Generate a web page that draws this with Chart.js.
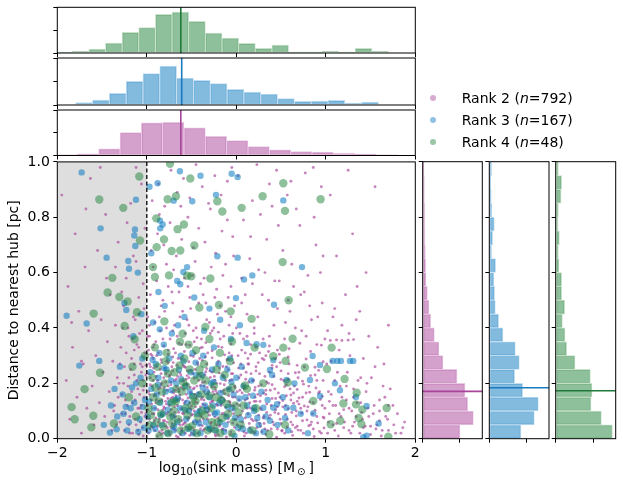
<!DOCTYPE html>
<html><head><meta charset="utf-8">
<script src="https://cdn.jsdelivr.net/npm/chart.js@4.4.1/dist/chart.umd.min.js"></script>
<style>
html,body{margin:0;padding:0;background:#fff;}
#wrap{position:relative;width:623px;height:488px;overflow:hidden;font-family:"DejaVu Sans",sans-serif;background:#fff;}
.box{position:absolute;}
.box canvas{display:block;}
.row{position:absolute;left:0;white-space:nowrap;height:20px;line-height:20px;font-size:14px;color:#000;font-family:"DejaVu Sans",sans-serif;}
.dot{position:absolute;width:6px;height:6px;border-radius:50%;top:7px;}
.lab{position:absolute;top:0;}
</style></head>
<body>
<div id="wrap">
  <div class="box" style="left:0;top:0;"><canvas id="topG" width="430" height="58"></canvas></div>
  <div class="box" style="left:0;top:54px;"><canvas id="topB" width="430" height="56"></canvas></div>
  <div class="box" style="left:0;top:106px;"><canvas id="topP" width="430" height="55"></canvas></div>
  <div class="box" style="left:0;top:150px;"><canvas id="main" width="430" height="338"></canvas></div>
  <div class="box" style="left:416px;top:155px;"><canvas id="rightP" width="68" height="290"></canvas></div>
  <div class="box" style="left:483px;top:155px;"><canvas id="rightB" width="68" height="290"></canvas></div>
  <div class="box" style="left:549px;top:155px;"><canvas id="rightG" width="69" height="290"></canvas></div>
  <div id="legend"></div>
</div>
<script>
// ---------------- DATA ----------------
const seriesNames = ['Rank 2', 'Rank 3', 'Rank 4'];
const seriesCounts = [792, 167, 48];
const xTicks = [-2, -1, 0, 1, 2];
const yTicks = [0, 0.2, 0.4, 0.6, 0.8, 1.0];
const shadeRange = [-2, -1];
const massCut = -1;

// scatter points [log10 mass, distance]
const rank2Pts = [
[-1.95,0.88],[-1.90,0.21],[-1.88,0.55],[-1.86,0.07],[-1.83,0.33],[-1.80,0.74],[-1.78,0.15],[-1.76,0.46],[-1.73,0.02],[-1.71,0.27],[-1.69,0.62],[-1.67,0.11],[-1.65,0.39],[-1.63,0.94],[-1.61,0.19],[-1.59,0.05],[-1.57,0.30],[-1.55,0.68],[-1.53,0.13],[-1.51,0.43],[-1.49,0.24],[-1.47,0.08],[-1.46,0.81],[-1.44,0.35],[-1.42,0.17],[-1.41,0.52],[-1.39,0.03],[-1.38,0.28],[-1.36,0.12],[-1.35,0.41],[-1.33,0.22],[-1.32,0.71],[-1.30,0.06],[-1.29,0.33],[-1.28,0.16],[-1.26,0.48],[-1.25,0.26],[-1.24,0.09],[-1.23,0.58],[-1.21,0.19],[-1.20,0.37],[-1.19,0.02],[-1.18,0.85],[-1.17,0.29],[-1.16,0.13],[-1.15,0.44],[-1.14,0.23],[-1.13,0.07],[-1.12,0.64],[-1.11,0.34],[-1.10,0.18],[-1.09,0.51],[-1.08,0.11],[-1.07,0.27],[-1.06,0.92],[-1.05,0.04],[-1.05,0.39],[-1.04,0.21],[-1.03,0.15],[-1.02,0.31],[-1.02,0.76],[-1.01,0.09],[-1.35,0.62],[-1.22,0.78],[-1.12,0.98],[-1.45,0.58],[-1.15,0.66],[-1.27,0.40],[-1.09,0.45],[-1.18,0.25],[-1.31,0.20],[-1.14,0.32],[-1.24,0.14],[-1.06,0.24],[-1.37,0.10],[-1.20,0.05],[-1.10,0.03],[-1.16,0.36],[-1.28,0.53],[-1.04,0.56],[-1.68,0.83],[-1.52,0.98],[-1.84,0.42],[-1.73,0.28],
[-0.98,0.02],[-0.93,0.04],[-0.88,0.01],[-0.83,0.03],[-0.79,0.045],[-0.74,0.015],[-0.70,0.035],[-0.65,0.005],[-0.61,0.028],[-0.56,0.042],[-0.52,0.012],[-0.47,0.031],[-0.43,0.02],[-0.38,0.047],[-0.34,0.008],[-0.29,0.026],[-0.25,0.039],[-0.20,0.014],[-0.15,0.033],[-0.11,0.006],[-0.06,0.024],[-0.02,0.041],
[-0.97,0.07],[-0.92,0.09],[-0.87,0.06],[-0.84,0.085],[-0.80,0.065],[-0.76,0.095],[-0.72,0.055],[-0.68,0.08],[-0.64,0.07],[-0.60,0.092],[-0.57,0.058],[-0.53,0.077],[-0.49,0.088],[-0.45,0.062],[-0.41,0.083],[-0.37,0.071],[-0.33,0.096],[-0.28,0.059],[-0.24,0.079],[-0.19,0.066],[-0.14,0.091],[-0.09,0.073],[-0.04,0.057],
[-0.99,0.12],[-0.95,0.14],[-0.91,0.11],[-0.86,0.135],[-0.82,0.105],[-0.78,0.125],[-0.73,0.145],[-0.69,0.115],[-0.66,0.138],[-0.62,0.108],[-0.58,0.128],[-0.54,0.147],[-0.50,0.118],[-0.46,0.133],[-0.42,0.103],[-0.39,0.142],[-0.35,0.121],[-0.31,0.111],[-0.27,0.137],[-0.22,0.124],[-0.17,0.149],[-0.12,0.113],[-0.07,0.131],[-0.03,0.119],
[-0.98,0.17],[-0.94,0.19],[-0.90,0.16],[-0.85,0.185],[-0.81,0.155],[-0.77,0.175],[-0.73,0.195],[-0.70,0.165],[-0.67,0.188],[-0.63,0.158],[-0.59,0.178],[-0.55,0.197],[-0.51,0.168],[-0.47,0.183],[-0.44,0.153],[-0.40,0.192],[-0.36,0.171],[-0.32,0.161],[-0.27,0.187],[-0.23,0.174],[-0.18,0.199],[-0.13,0.163],[-0.08,0.181],[-0.04,0.169],
[-0.96,0.22],[-0.92,0.24],[-0.88,0.21],[-0.84,0.235],[-0.79,0.205],[-0.75,0.225],[-0.71,0.245],[-0.67,0.215],[-0.63,0.238],[-0.59,0.208],[-0.55,0.228],[-0.51,0.247],[-0.47,0.218],[-0.42,0.233],[-0.38,0.203],[-0.34,0.242],[-0.29,0.221],[-0.24,0.211],[-0.19,0.237],[-0.14,0.224],[-0.09,0.249],[-0.05,0.213],
[-0.97,0.27],[-0.93,0.29],[-0.89,0.26],[-0.84,0.285],[-0.80,0.255],[-0.76,0.275],[-0.71,0.295],[-0.66,0.265],[-0.62,0.288],[-0.57,0.258],[-0.53,0.278],[-0.48,0.297],[-0.43,0.268],[-0.38,0.283],[-0.33,0.253],[-0.27,0.292],[-0.21,0.271],[-0.15,0.261],[-0.09,0.287],[-0.03,0.274],
[-0.98,0.32],[-0.92,0.34],[-0.87,0.31],[-0.81,0.335],[-0.76,0.305],[-0.70,0.325],[-0.64,0.345],[-0.58,0.315],[-0.52,0.338],[-0.46,0.308],[-0.40,0.328],[-0.34,0.347],[-0.27,0.318],[-0.20,0.333],[-0.13,0.303],[-0.06,0.342],
[-0.95,0.045],[-0.90,0.075],[-0.86,0.025],[-0.81,0.115],[-0.77,0.04],[-0.72,0.17],[-0.68,0.03],[-0.63,0.145],[-0.60,0.05],[-0.55,0.10],[-0.50,0.02],[-0.46,0.16],[-0.41,0.05],[-0.36,0.14],[-0.31,0.04],[-0.96,0.195],[-0.89,0.14],[-0.83,0.20],[-0.78,0.09],[-0.74,0.23],[-0.69,0.095],[-0.65,0.18],[-0.61,0.065],[-0.56,0.215],[-0.52,0.13],[-0.48,0.06],[-0.44,0.19],[-0.40,0.115],[-0.35,0.23],[-0.30,0.085],[-0.26,0.17],[-0.22,0.05],[-0.17,0.12],[-0.12,0.21],[-0.08,0.10],[-0.04,0.15],[-0.01,0.07],
[-0.97,0.37],[-0.91,0.42],[-0.85,0.39],[-0.80,0.46],[-0.74,0.36],[-0.69,0.41],[-0.63,0.44],[-0.57,0.38],[-0.51,0.47],[-0.45,0.40],[-0.39,0.36],[-0.33,0.43],[-0.27,0.39],[-0.21,0.45],[-0.14,0.37],[-0.08,0.41],[-0.02,0.48],
[-0.96,0.52],[-0.89,0.57],[-0.82,0.50],[-0.76,0.55],[-0.70,0.61],[-0.64,0.53],[-0.58,0.58],[-0.52,0.51],[-0.46,0.64],[-0.40,0.56],[-0.34,0.49],[-0.28,0.62],[-0.22,0.54],[-0.15,0.59],[-0.09,0.51],[-0.03,0.66],
[-0.95,0.68],[-0.88,0.74],[-0.81,0.70],[-0.74,0.78],[-0.67,0.66],[-0.61,0.72],[-0.54,0.80],[-0.48,0.69],[-0.42,0.76],[-0.35,0.71],[-0.29,0.83],[-0.23,0.67],[-0.16,0.75],[-0.10,0.79],[-0.04,0.73],
[-0.94,0.86],[-0.87,0.92],[-0.80,0.84],[-0.73,0.97],[-0.66,0.89],[-0.59,0.94],[-0.52,0.87],[-0.45,0.99],[-0.38,0.91],[-0.31,0.85],[-0.24,0.95],[-0.17,0.88],[-0.10,0.93],[-0.05,0.98],
[-0.99,0.44],[-0.93,0.62],[-0.86,0.81],[-0.78,0.63],[-0.71,0.49],[-0.62,0.84],[-0.55,0.43],[-0.49,0.59],[-0.37,0.52],[-0.25,0.40],[-0.18,0.48],[-0.12,0.63],[-0.06,0.44],
[0.03,0.03],[0.09,0.01],[0.15,0.04],[0.21,0.02],[0.27,0.045],[0.33,0.015],[0.39,0.035],[0.45,0.005],[0.51,0.028],[0.57,0.042],[0.63,0.012],[0.69,0.031],[0.75,0.02],[0.81,0.047],[0.87,0.008],[0.93,0.026],[0.98,0.039],
[0.02,0.08],[0.07,0.06],[0.13,0.09],[0.19,0.065],[0.25,0.085],[0.31,0.055],[0.37,0.075],[0.43,0.095],[0.49,0.07],[0.55,0.088],[0.61,0.06],[0.67,0.082],[0.73,0.092],[0.79,0.068],[0.85,0.09],[0.91,0.057],[0.97,0.078],
[0.04,0.12],[0.10,0.14],[0.16,0.11],[0.22,0.135],[0.28,0.105],[0.34,0.125],[0.40,0.145],[0.46,0.115],[0.52,0.138],[0.58,0.108],[0.64,0.128],[0.70,0.147],[0.76,0.118],[0.82,0.133],[0.88,0.103],[0.94,0.142],
[0.01,0.17],[0.08,0.19],[0.14,0.16],[0.21,0.185],[0.27,0.155],[0.33,0.175],[0.40,0.195],[0.47,0.165],[0.54,0.188],[0.61,0.158],[0.68,0.178],[0.75,0.197],[0.82,0.168],[0.89,0.183],[0.96,0.153],
[0.03,0.22],[0.11,0.24],[0.18,0.21],[0.26,0.235],[0.34,0.205],[0.42,0.225],[0.50,0.245],[0.58,0.215],[0.66,0.238],[0.74,0.208],[0.83,0.228],[0.92,0.247],
[0.05,0.27],[0.13,0.29],[0.22,0.26],[0.31,0.285],[0.40,0.255],[0.49,0.275],[0.58,0.295],[0.68,0.265],[0.78,0.288],[0.88,0.258],[0.97,0.278],
[0.06,0.32],[0.16,0.34],[0.26,0.31],[0.37,0.335],[0.48,0.305],[0.59,0.325],[0.71,0.345],[0.83,0.315],[0.95,0.338],
[0.06,0.045],[0.12,0.11],[0.18,0.025],[0.24,0.16],[0.30,0.075],[0.36,0.20],[0.42,0.05],[0.48,0.13],[0.54,0.02],[0.60,0.18],[0.66,0.04],[0.72,0.11],[0.78,0.165],[0.84,0.06],[0.90,0.21],[0.96,0.12],[0.14,0.27],[0.44,0.29],[0.70,0.24],
[0.04,0.38],[0.12,0.45],[0.20,0.40],[0.29,0.52],[0.37,0.37],[0.46,0.47],[0.55,0.42],[0.64,0.55],[0.73,0.39],[0.82,0.48],[0.91,0.44],[0.99,0.36],
[0.06,0.58],[0.15,0.65],[0.25,0.61],[0.34,0.72],[0.43,0.57],[0.52,0.68],[0.62,0.63],[0.71,0.77],[0.80,0.59],[0.89,0.70],[0.97,0.66],
[0.08,0.79],[0.18,0.86],[0.27,0.81],[0.37,0.92],[0.47,0.77],[0.57,0.88],[0.67,0.83],[0.77,0.96],[0.87,0.80],[0.95,0.91],
[0.02,0.95],[0.23,0.99],[0.45,0.97],[0.61,0.93],[0.86,0.98],[0.10,0.52],[0.32,0.60],[0.58,0.50],[0.76,0.53],[0.94,0.60],[0.40,0.84],[0.16,0.73],
[1.05,0.355],[1.12,0.357],[1.18,0.355],[1.25,0.356],[1.31,0.358],
[1.02,0.02],[1.08,0.05],[1.14,0.01],[1.20,0.04],[1.26,0.03],[1.32,0.06],[1.38,0.02],[1.44,0.045],[1.50,0.015],[1.56,0.035],[1.62,0.01],[1.70,0.03],[1.78,0.02],[1.86,0.04],
[1.04,0.09],[1.11,0.12],[1.17,0.08],[1.23,0.14],[1.29,0.10],[1.35,0.13],[1.41,0.07],[1.47,0.11],[1.53,0.09],[1.60,0.14],[1.67,0.08],[1.75,0.12],
[1.03,0.17],[1.10,0.21],[1.16,0.19],[1.24,0.24],[1.31,0.18],[1.39,0.22],[1.46,0.20],[1.55,0.26],[1.64,0.19],
[1.06,0.28],[1.15,0.32],[1.27,0.30],[1.42,0.29],[1.58,0.33],
[1.08,0.44],[1.22,0.52],[1.38,0.46],[1.12,0.66],[1.30,0.74],[1.45,0.60],[1.05,0.88],[1.55,0.91],[1.25,0.97],[1.70,0.41],[1.35,0.55],
[-0.99,0.055],[-0.97,0.16],[-0.96,0.26],[-0.94,0.09],[-0.93,0.21],[-0.91,0.03],[-0.90,0.13],[-0.89,0.30],[-0.87,0.18],[-0.86,0.07],[-0.85,0.25],[-0.83,0.14],[-0.82,0.02],[-0.81,0.22],[-0.80,0.11],[-0.78,0.28],[-0.77,0.06],[-0.76,0.19],[-0.75,0.12],[-0.73,0.04],[-0.72,0.26],[-0.71,0.15],[-0.70,0.08],[-0.69,0.21],[-0.67,0.01],[-0.66,0.12],[-0.65,0.29],[-0.64,0.17],[-0.63,0.05],[-0.62,0.23],[-0.60,0.14],[-0.59,0.09],[-0.58,0.26],[-0.57,0.02],[-0.56,0.16],[-0.54,0.07],[-0.53,0.22],[-0.52,0.11],[-0.51,0.30],[-0.49,0.04],[-0.48,0.18],[-0.47,0.10],[-0.46,0.25],[-0.44,0.13],[-0.43,0.06],[-0.42,0.21],[-0.41,0.29],[-0.39,0.08],[-0.38,0.15],[-0.37,0.03],[-0.36,0.19],[-0.34,0.11],[-0.33,0.27],[-0.32,0.07],[-0.31,0.17],[-0.29,0.13],[-0.28,0.03],[-0.27,0.24],[-0.26,0.09],[-0.25,0.16],[-0.23,0.01],[-0.22,0.20],[-0.21,0.12],[-0.20,0.28],[-0.18,0.05],[-0.17,0.17],[-0.16,0.09],[-0.15,0.23],[-0.13,0.14],[-0.12,0.03],[-0.11,0.26],[-0.10,0.18],[-0.09,0.06],[-0.07,0.21],[-0.06,0.12],[-0.05,0.30],[-0.03,0.09],[-0.02,0.19],[-0.01,0.15],[-0.98,0.235],[-0.92,0.155],[-0.88,0.045],[-0.84,0.195],[-0.79,0.135],[-0.74,0.085],[-0.68,0.175],[-0.61,0.035],[-0.55,0.195],[-0.50,0.085],[-0.45,0.145],[-0.40,0.035],[-0.35,0.205],[-0.30,0.105],[-0.24,0.185],[-0.19,0.045],[-0.14,0.175],[-0.08,0.135],[-0.04,0.235],
[-1.34,0.05],[-1.32,0.15],[-1.30,0.27],[-1.28,0.09],[-1.26,0.20],[-1.25,0.03],[-1.23,0.31],[-1.22,0.12],[-1.20,0.22],[-1.19,0.08],[-1.17,0.17],[-1.16,0.02],[-1.14,0.27],[-1.13,0.14],[-1.12,0.05],[-1.11,0.21],[-1.10,0.11],[-1.09,0.33],[-1.08,0.16],[-1.07,0.06],[-1.06,0.12],[-1.05,0.26],[-1.04,0.01],[-1.03,0.19],[-1.02,0.08],[-1.01,0.23],[-1.21,0.40],[-1.13,0.43],[-1.08,0.38],[-1.03,0.47],
[0.01,0.05],[0.03,0.14],[0.05,0.23],[0.07,0.10],[0.09,0.18],[0.11,0.02],[0.13,0.27],[0.15,0.13],[0.17,0.07],[0.19,0.21],[0.21,0.15],[0.23,0.04],[0.25,0.19],[0.27,0.11],[0.29,0.29],[0.31,0.08],[0.33,0.16],[0.35,0.03],[0.37,0.24],[0.39,0.12],[0.41,0.06],[0.43,0.18],[0.45,0.26],[0.47,0.09],[0.49,0.15],[0.51,0.03],[0.53,0.21],[0.55,0.12],[0.57,0.07],[0.59,0.27],[0.61,0.14],[0.63,0.05],[0.65,0.19],[0.67,0.10],[0.69,0.22],[0.02,0.30],[0.08,0.255],[0.14,0.205],[0.20,0.135],[0.26,0.055],[0.32,0.225],[0.38,0.175],[0.44,0.105],[0.50,0.215],[0.56,0.155],[0.62,0.095],[0.68,0.045],[0.04,0.175],[0.10,0.075],[0.16,0.305],[0.22,0.245],[0.28,0.195],[0.34,0.095],[0.40,0.265],[0.46,0.035],[0.52,0.115],[0.58,0.235],[0.64,0.165],[0.70,0.125],[0.36,0.315],
[0.72,0.03],[0.74,0.15],[0.76,0.26],[0.79,0.10],[0.81,0.19],[0.83,0.05],[0.86,0.13],[0.88,0.23],[0.90,0.08],[0.93,0.17],[0.95,0.02],[0.97,0.21],[0.99,0.11],[1.01,0.27],[1.03,0.06],[1.06,0.16],[1.08,0.12],[1.10,0.03],[1.13,0.24],[1.15,0.09],[1.18,0.15],[1.21,0.06],[1.23,0.19],[1.26,0.11],[1.28,0.02],[1.31,0.15],[1.34,0.08],[1.36,0.21],[1.39,0.13],[1.42,0.04],[1.45,0.17],[1.48,0.08],[1.51,0.22],[1.54,0.12],[1.57,0.05],[1.60,0.10],[1.63,0.03],[1.66,0.15],[1.69,0.07],[1.72,0.18],[1.76,0.05],[1.80,0.09],[1.84,0.02],[1.88,0.06],[1.65,0.27],
[-0.97,0.41],[-0.90,0.35],[-0.84,0.48],[-0.78,0.40],[-0.72,0.53],[-0.66,0.37],[-0.60,0.46],[-0.54,0.55],[-0.48,0.39],[-0.42,0.49],[-0.36,0.58],[-0.30,0.42],[-0.24,0.51],[-0.18,0.36],[-0.12,0.46],[-0.06,0.55],[0.00,0.40],[0.06,0.49],[0.12,0.37],[0.18,0.56],[0.24,0.44],[0.30,0.36],[0.36,0.50],[0.42,0.41],[0.48,0.57],[0.54,0.36],[0.60,0.46],[0.66,0.40],[0.72,0.52],[0.78,0.37],[0.84,0.43],[0.90,0.34],[0.96,0.49],[1.02,0.39],[1.10,0.47],[1.18,0.41],[1.26,0.38],[1.34,0.43],[1.48,0.37],[-0.94,0.30],[-0.82,0.36],[-0.68,0.31],[-0.56,0.34],[-0.44,0.365],[-0.32,0.31],[-0.20,0.385],[-0.08,0.31],[0.08,0.36],[0.22,0.33],[0.46,0.32],
[-1.09,0.015],[-1.06,0.095],[-1.04,0.175],[-1.01,0.265],[-0.985,0.105],[-0.965,0.035],[-0.955,0.305],[-0.945,0.125],[-0.925,0.255],[-0.915,0.065],[-0.895,0.225],[-0.875,0.105],[-0.865,0.165],[-0.845,0.015],[-0.835,0.275],[-0.815,0.065],[-0.805,0.185],[-0.785,0.235],[-0.765,0.145],[-0.755,0.025],[-0.735,0.205],[-0.725,0.105],[-0.705,0.275],[-0.695,0.045],[-0.675,0.155],[-0.655,0.225],[-0.645,0.095],[-0.625,0.015],[-0.615,0.185],[-0.595,0.265],[-0.585,0.055],[-0.565,0.135],[-0.545,0.245],[-0.535,0.035],[-0.515,0.185],[-0.505,0.105],[-0.485,0.235],[-0.475,0.015],[-0.455,0.115],[-0.435,0.275],[-0.425,0.165],[-0.405,0.065],[-0.395,0.225],[-0.375,0.125],[-0.355,0.035],[-0.345,0.295],[-0.325,0.185],[-0.315,0.095],[-0.295,0.245],[-0.285,0.055],[-0.265,0.135],[-0.245,0.225],[-0.235,0.015],[-0.215,0.165],[-0.205,0.075],[-0.185,0.255],[-0.165,0.125],[-0.155,0.035],[-0.135,0.195],[-0.115,0.085],[-0.105,0.285],[-0.085,0.155],[-0.065,0.015],[-0.055,0.235],[-0.035,0.105],[-0.015,0.185],[0.005,0.125],[0.025,0.255],[0.045,0.085],[0.065,0.165],[0.085,0.025],[0.105,0.215],[0.125,0.145],[0.145,0.055],[0.165,0.235],[0.185,0.105],[0.205,0.175],[0.225,0.065],[0.245,0.275],[0.265,0.135],[0.285,0.025],[0.305,0.165],
[-0.99,0.37],[-0.93,0.33],[-0.86,0.44],[-0.76,0.32],[-0.71,0.39],[-0.61,0.34],[-0.53,0.41],[-0.47,0.35],[-0.38,0.33],[-0.29,0.38],[-0.16,0.33],[-0.04,0.38],[0.10,0.31],[0.20,0.38],[0.33,0.30],
[0.32,0.035],[0.38,0.085],[0.44,0.145],[0.50,0.055],[0.56,0.195],[0.62,0.025],[0.68,0.135],[0.74,0.065],[0.80,0.115],[0.86,0.035],[0.92,0.165],[0.98,0.075],[1.04,0.135],[1.12,0.055],[1.20,0.105],[1.30,0.045],[1.40,0.095],[1.50,0.045],[1.60,0.065],[1.70,0.12]
];

const rank3Pts = [
[-1.728,0.962],[-0.052,0.957],[0.015,0.945],[-0.630,0.966],[-1.516,0.760],[-1.449,0.654],[-1.132,0.756],[-1.140,0.734],[-1.128,0.696],[-1.207,0.642],[-1.121,0.863],[-0.227,0.881],[0.525,0.861],[-0.492,0.858],[-0.879,0.923],[-0.853,0.788],[-0.823,0.774],[-0.212,0.659],[0.015,0.654],[0.179,0.590],[0.086,0.575],[0.734,0.620],[-0.592,0.602],[-0.626,0.558],[-0.004,0.508],[0.421,0.484],[-1.896,0.444],[-1.672,0.416],[-1.754,0.264],[-1.531,0.281],[-1.229,0.465],[-1.199,0.614],
[1.076,0.281],[1.128,0.281],[1.169,0.281],[1.270,0.281],[1.307,0.281],[0.853,0.299],[0.935,0.266],[0.823,0.212],[1.158,0.175],[1.337,0.151],[1.456,0.118],[1.590,0.055],[1.456,0.011],[1.419,0.005],[1.102,0.200],[0.860,0.091],[0.562,0.212],[0.376,0.248],[0.413,0.284],[0.302,0.339],[0.227,0.341],[0.115,0.346],[0.201,0.112],[0.302,0.112],[0.413,0.112],[0.562,0.112],[0.637,0.112],[0.935,0.154],[-1.412,0.022],[-1.337,0.034],
[-0.98,0.03],[-0.92,0.11],[-0.87,0.22],[-0.83,0.05],[-0.79,0.17],[-0.75,0.29],[-0.71,0.08],[-0.68,0.14],[-0.64,0.25],[-0.60,0.02],[-0.57,0.19],[-0.53,0.10],[-0.49,0.31],[-0.46,0.06],[-0.42,0.16],[-0.38,0.23],[-0.35,0.12],[-0.31,0.04],[-0.28,0.20],[-0.24,0.09],[-0.20,0.27],[-0.16,0.14],[-0.12,0.05],[-0.08,0.18],[-0.04,0.11],[0.00,0.22],[0.05,0.07],[0.10,0.15],[0.15,0.03],[0.20,0.10],
[-0.95,0.18],[-0.90,0.27],[-0.85,0.13],[-0.81,0.34],[-0.77,0.02],[-0.73,0.21],[-0.66,0.06],[-0.62,0.30],[-0.55,0.13],[-0.51,0.24],[-0.44,0.09],[-0.40,0.02],[-0.33,0.17],[-0.26,0.12],[-0.18,0.06],[-0.10,0.25],[-0.02,0.01],[0.08,0.19],[0.25,0.05],[0.35,0.14],
[-1.02,0.14],[-1.08,0.07],[-1.12,0.20],[-1.18,0.11],[-1.22,0.03],[-1.27,0.16],[-1.33,0.08],[-1.40,0.12],[-1.48,0.05],[-1.05,0.29],[-1.15,0.37],[-1.25,0.49],[-1.06,0.45],[-1.10,0.60],[-1.30,0.26],
[-0.93,0.42],[-0.87,0.53],[-0.80,0.48],[-0.72,0.38],[-0.66,0.57],[-0.58,0.44],[-0.47,0.51],[-0.36,0.39],[-0.30,0.47],[-0.18,0.43],[-0.06,0.36],[-0.95,0.67],[-0.85,0.76],[-0.70,0.86],[-0.55,0.62],[-0.40,0.95],[-0.97,0.91],
[-0.99,0.08],[-0.96,0.24],[-0.93,0.05],[-0.89,0.16],[-0.86,0.31],[-0.82,0.09],[-0.78,0.25],[-0.74,0.13],[-0.70,0.03],[-0.67,0.20],[-0.63,0.11],[-0.59,0.28],[-0.56,0.07],[-0.52,0.17],[-0.48,0.02],[-0.45,0.23],[-0.41,0.10],[-0.37,0.30],[-0.34,0.06],[-0.30,0.15],[-0.27,0.25],[-0.23,0.03],[-0.19,0.13],[-0.15,0.22],[-0.11,0.08],[-0.07,0.29],[-0.03,0.16],[0.02,0.04],[0.06,0.26],[0.12,0.12],[0.17,0.21],[0.22,0.02],[0.28,0.17],[0.33,0.08],[0.40,0.23],[0.46,0.05],[0.52,0.15],[0.58,0.03],[0.65,0.20],[0.72,0.09],[0.80,0.02],[-1.03,0.04],[-1.07,0.22],[-1.14,0.13],[-1.20,0.06],[-1.26,0.09],[-1.36,0.18],[-0.65,0.41],[-0.25,0.33],[0.04,0.41],
[-0.975,0.135],[-0.935,0.285],[-0.905,0.035],[-0.875,0.195],[-0.845,0.085],[-0.805,0.255],[-0.765,0.105],[-0.725,0.175],[-0.695,0.045],[-0.655,0.145],[-0.615,0.215],[-0.575,0.105],[-0.535,0.035],[-0.495,0.155],[-0.455,0.275],[-0.415,0.055],[-0.375,0.185],[-0.335,0.105],[-0.295,0.035],[-0.255,0.205],[-0.215,0.095],[-0.175,0.165],[-0.135,0.025],[-0.095,0.115],[-0.055,0.205],[-0.015,0.075],[0.035,0.145],[0.075,0.035],[0.135,0.085],[0.185,0.155],[0.235,0.075],[0.305,0.025],[0.375,0.065],[0.455,0.125],[0.545,0.075],[-1.045,0.115],[-1.095,0.025],[-1.165,0.185],[-1.235,0.115],[-0.855,0.395]
];

const rank4Pts = [
[-0.741,0.993],[-1.084,0.947],[-0.514,0.940],[0.525,0.923],[-1.531,0.864],[-1.263,0.834],[-0.767,0.865],[-0.674,0.876],[-0.212,0.858],[0.294,0.876],[0.942,0.865],[0.544,0.823],[0.060,0.834],[-0.156,0.821],[-0.894,0.796],[-0.585,0.774],[-0.656,0.757],[-0.808,0.720],[-1.076,0.716],[-0.890,0.692],[-0.469,0.698],[-0.722,0.678],[-0.626,0.680],[0.518,0.638],[-0.931,0.620],[-0.909,0.584],[-0.752,0.590],[-0.548,0.589],[-0.503,0.587],[-0.290,0.579],[-1.385,0.581],[-1.438,0.528],[-1.307,0.512],[-1.214,0.496],[0.585,0.500],[-0.194,0.483],[-0.413,0.474],[-0.063,0.460],[-1.594,0.452],[-1.110,0.457],[0.171,0.433],[-0.804,0.424],[-0.346,0.404],[-1.248,0.407],[-1.136,0.359],[-0.600,0.379],[-0.533,0.340],[0.629,0.361],[-0.048,0.351],[1.065,0.329],[0.205,0.329],[0.525,0.329],[-0.183,0.310],[0.413,0.298],[0.551,0.281],[0.767,0.257],[1.013,0.252],[1.210,0.216],[0.574,0.203],[0.097,0.192],[1.345,0.166],[1.196,0.127],[1.337,0.124],[1.408,0.105],[1.680,0.111],[1.367,0.075],[1.397,0.053],[1.054,0.052],[1.162,0.065],[1.698,0.007],[0.544,0.050],[0.369,0.016],[-1.695,0.179],[-1.840,0.114],[-1.806,0.070],[-1.620,0.041],[-1.523,0.238],[-1.367,0.055],[-1.598,0.083],[0.860,0.136],
[-0.97,0.05],[-0.93,0.15],[-0.88,0.26],[-0.84,0.09],[-0.80,0.20],[-0.76,0.02],[-0.72,0.13],[-0.69,0.24],[-0.65,0.07],[-0.61,0.17],[-0.58,0.29],[-0.54,0.04],[-0.50,0.12],[-0.47,0.21],[-0.43,0.08],[-0.39,0.16],[-0.36,0.27],[-0.32,0.03],[-0.28,0.11],[-0.25,0.19],[-0.21,0.06],[-0.17,0.14],[-0.13,0.23],[-0.09,0.09],[-0.05,0.02],[-0.01,0.12],
[-0.91,0.33],[-0.78,0.31],[-0.63,0.35],[-0.45,0.32],[-0.30,0.36],[-0.86,0.01],[-0.70,0.10],[-0.56,0.19],[-0.41,0.25],[-0.23,0.15],[0.05,0.05],[0.12,0.18],[0.22,0.11],[-1.05,0.20],[-1.12,0.08],[-1.20,0.15],
[-0.98,0.11],[-0.94,0.22],[-0.89,0.06],[-0.83,0.17],[-0.79,0.28],[-0.74,0.08],[-0.67,0.18],[-0.62,0.03],[-0.57,0.11],[-0.52,0.25],[-0.48,0.15],[-0.44,0.02],[-0.38,0.10],[-0.34,0.21],[-0.27,0.06],[-0.22,0.25],[-0.18,0.02],[-0.11,0.17],[-0.07,0.28],[-0.03,0.06],[0.08,0.12],[0.18,0.03],[0.30,0.20],[-1.02,0.30],[-1.16,0.26],
[-0.955,0.085],[-0.905,0.185],[-0.865,0.135],[-0.815,0.045],[-0.765,0.235],[-0.715,0.055],[-0.675,0.135],[-0.595,0.205],[-0.545,0.085],[-0.495,0.045],[-0.455,0.135],[-0.405,0.225],[-0.355,0.085],[-0.305,0.155],[-0.245,0.035],[-0.155,0.075],[-0.105,0.125],[-0.045,0.185],[0.025,0.095],[-0.635,0.265]
];

// top (mass) histograms: bin centres and bar heights (relative units, panel full scale = topMax)
const rank2MassBins = [-1.896,-1.657,-1.419,-1.180,-0.942,-0.704,-0.465,-0.227,0.012,0.250,0.489,0.727,0.965,1.204,1.442,1.681];
const rank2MassHist = [2,5,20,69,98,100,83,58,45,27,17,12,10,7,4,2];
const rank3MassBins = [-1.701,-1.513,-1.325,-1.137,-0.949,-0.761,-0.573,-0.385,-0.197,-0.009,0.179,0.367,0.555,0.743,0.931,1.119,1.307,1.495];
const rank3MassHist = [7,15,35,71,94,117,81,74,64,47,39,33,19,11,12,14,6,9];
const rank4MassBins = [-1.927,-1.741,-1.555,-1.369,-1.183,-0.997,-0.811,-0.625,-0.439,-0.253,-0.067,0.119,0.305,0.491,0.677,0.863,1.049,1.235,1.421,1.607];
const rank4MassHist = [2,5,12,30,62,76,116,123,95,60,45,29,14,24,3,3,6,3,14,6];
const topMax = [137, 141, 137];
const topMidTick = [68.5, 70.5, 68.5];
const massMedians = [-0.62, -0.61, -0.62];

// right (distance) histograms: bin centres and bar lengths (relative units)
const distBins = [0.025,0.075,0.125,0.175,0.225,0.275,0.325,0.375,0.425,0.475,0.525,0.575,0.625,0.675,0.725,0.775,0.825,0.875,0.925,0.975];
const rank2DistHist = [112,152,135,127,103,61,49,35,24,19,14,10,9,8,7,6,6,5,5,4];
const rank3DistHist = [95,135,147,100,76,90,78,41,28,18,16,14,19,7,10,15,8,6,4,7];
const rank4DistHist = [170,137,106,109,104,58,33,28,20,27,18,18,10,8,11,7,8,16,18,8];
const rightMax = [179, 179, 180];
const rightTick = 112;
const distMedians = [0.171, 0.184, 0.173];

// ---------------- STYLE ----------------
const baseCol = ['169,67,154', '8,120,192', '31,129,57'];
const histFill = ['rgba(169,67,154,0.5)', 'rgba(8,120,192,0.5)', 'rgba(31,129,57,0.5)'];
const histEdge = ['rgba(230,195,225,0.9)', 'rgba(190,220,240,0.9)', 'rgba(195,222,200,0.9)'];
const lineCol = ['#a8449a', '#1a7abf', '#1f7a3a'];

Chart.defaults.font.family = '"DejaVu Sans", sans-serif';
Chart.defaults.font.size = 14;
Chart.defaults.color = '#000';

const framePlugin = {
  id: 'frame',
  afterDraw(c) {
    const a = c.chartArea, ctx = c.ctx;
    ctx.save();
    ctx.strokeStyle = '#000';
    ctx.lineWidth = 1;
    ctx.strokeRect(a.left, a.top, a.right - a.left, a.bottom - a.top);
    ctx.restore();
  }
};

function tickGrid() {
  return { drawOnChartArea: false, drawTicks: true, tickLength: 4, color: '#000', lineWidth: 1, offset: false };
}
const minus = v => (v < 0 ? '\u2212' : '') + Math.abs(v);

// ---------------- MAIN SCATTER ----------------
const shadePlugin = {
  id: 'shade',
  beforeDatasetsDraw(c) {
    const a = c.chartArea, ctx = c.ctx, x = c.scales.x;
    const x0 = x.getPixelForValue(shadeRange[0]), x1 = x.getPixelForValue(shadeRange[1]);
    ctx.save();
    ctx.fillStyle = '#dedede';
    ctx.fillRect(x0, a.top, x1 - x0, a.bottom - a.top);
    ctx.restore();
  },
  afterDatasetsDraw(c) {
    const a = c.chartArea, ctx = c.ctx, x = c.scales.x;
    const px = x.getPixelForValue(massCut);
    ctx.save();
    ctx.strokeStyle = '#000';
    ctx.lineWidth = 1.3;
    ctx.setLineDash([4, 2.5]);
    ctx.beginPath(); ctx.moveTo(px, a.top); ctx.lineTo(px, a.bottom); ctx.stroke();
    ctx.restore();
  }
};

const xTitlePlugin = {
  id: 'xtitle',
  afterDraw(c) {
    const ctx = c.ctx, a = c.chartArea;
    const parts = [
      { t: 'log', s: 14, dy: 0, gap: 0 },
      { t: '10', s: 10, dy: 3, gap: 0 },
      { t: '(sink mass) [M', s: 14, dy: 0, gap: 0 },
      { t: '\u2299', s: 10, dy: 3, gap: 2 },
      { t: ']', s: 14, dy: 0, gap: 3 }
    ];
    ctx.save();
    let w = 0;
    parts.forEach(p => { ctx.font = p.s + 'px "DejaVu Sans"'; p.w = ctx.measureText(p.t).width; w += p.w + p.gap; });
    let x = (a.left + a.right) / 2 - w / 2;
    const base = a.bottom + 33.5;
    ctx.fillStyle = '#000';
    ctx.textBaseline = 'alphabetic';
    ctx.textAlign = 'left';
    parts.forEach(p => { x += p.gap; ctx.font = p.s + 'px "DejaVu Sans"'; ctx.fillText(p.t, x, base + p.dy); x += p.w; });
    ctx.restore();
  }
};

const toXY = arr => arr.map(p => ({ x: p[0], y: p[1] }));

new Chart(document.getElementById('main'), {
  type: 'scatter',
  data: {
    datasets: [
      { label: seriesNames[0], data: toXY(rank2Pts), pointRadius: 1.45, pointBackgroundColor: 'rgba(' + baseCol[0] + ',0.65)', pointBorderWidth: 0, borderWidth: 0, order: 3 },
      { label: seriesNames[1], data: toXY(rank3Pts), pointRadius: 3.2, pointBackgroundColor: 'rgba(' + baseCol[1] + ',0.55)', pointBorderWidth: 0, borderWidth: 0, order: 2 },
      { label: seriesNames[2], data: toXY(rank4Pts), pointRadius: 4.2, pointBackgroundColor: 'rgba(' + baseCol[2] + ',0.5)', pointBorderWidth: 0, borderWidth: 0, order: 1 }
    ]
  },
  options: {
    responsive: false, animation: false, events: [],
    layout: { padding: { top: 11.5, right: 14.7, left: 0, bottom: 0 } },
    plugins: { legend: { display: false }, tooltip: { enabled: false } },
    scales: {
      x: {
        type: 'linear', min: -2, max: 2,
        afterBuildTicks: s => { s.ticks = xTicks.map(v => ({ value: v })); },
        afterFit: s => { s.height = 49.3; },
        ticks: { callback: v => minus(v), padding: 2, maxRotation: 0, autoSkip: false, color: '#000', font: { size: 14 } },
        grid: tickGrid(), border: { display: false }
      },
      y: {
        type: 'linear', min: 0, max: 1,
        afterBuildTicks: s => { s.ticks = yTicks.map(v => ({ value: v })); },
        afterFit: s => { s.width = 57.3; },
        ticks: { callback: v => v.toFixed(1), padding: 3.5, autoSkip: false, color: '#000', font: { size: 14 } },
        grid: tickGrid(), border: { display: false },
        title: { display: true, text: 'Distance to nearest hub [pc]', color: '#000', font: { size: 14 }, padding: { top: 5.6, bottom: 0 } }
      }
    }
  },
  plugins: [shadePlugin, framePlugin, xTitlePlugin]
});

// ---------------- TOP HISTOGRAMS ----------------
function vLine(val, col) {
  return { id: 'vline', afterDatasetsDraw(c) {
    const a = c.chartArea, ctx = c.ctx, px = c.scales.x.getPixelForValue(val);
    ctx.save(); ctx.strokeStyle = col; ctx.lineWidth = 1.6;
    ctx.beginPath(); ctx.moveTo(px, a.top); ctx.lineTo(px, a.bottom); ctx.stroke(); ctx.restore();
  } };
}
function hLine(val, col) {
  return { id: 'hline', afterDatasetsDraw(c) {
    const a = c.chartArea, ctx = c.ctx, py = c.scales.y.getPixelForValue(val);
    ctx.save(); ctx.strokeStyle = col; ctx.lineWidth = 1.6;
    ctx.beginPath(); ctx.moveTo(a.left, py); ctx.lineTo(a.right, py); ctx.stroke(); ctx.restore();
  } };
}

function topHist(id, k, bins, hist, padTop, xH) {
  new Chart(document.getElementById(id), {
    type: 'bar',
    data: { datasets: [{ data: bins.map((b, i) => ({ x: b, y: hist[i] })), backgroundColor: histFill[k], borderColor: histEdge[k], borderWidth: 1, borderSkipped: false, barPercentage: 1, categoryPercentage: 1 }] },
    options: {
      responsive: false, animation: false, events: [],
      layout: { padding: { top: padTop, right: 14.7, left: 0, bottom: 0 } },
      plugins: { legend: { display: false }, tooltip: { enabled: false } },
      scales: {
        x: { type: 'linear', min: -2, max: 2, offset: false,
          afterBuildTicks: s => { s.ticks = xTicks.map(v => ({ value: v })); },
          afterFit: s => { s.height = xH; },
          ticks: { display: false }, grid: tickGrid(), border: { display: false } },
        y: { type: 'linear', min: 0, max: topMax[k],
          afterBuildTicks: s => { s.ticks = [0, topMidTick[k], topMax[k]].map(v => ({ value: v })); },
          afterFit: s => { s.width = 57.3; },
          ticks: { display: false }, grid: tickGrid(), border: { display: false } }
      }
    },
    plugins: [framePlugin, vLine(massMedians[k], lineCol[k])]
  });
}
topHist('topG', 2, rank4MassBins, rank4MassHist, 7.3, 5);
topHist('topB', 1, rank3MassBins, rank3MassHist, 4, 5);
topHist('topP', 0, rank2MassBins, rank2MassHist, 4, 5.5);

// ---------------- RIGHT HISTOGRAMS ----------------
function rightHist(id, k, hist, yW, padR) {
  new Chart(document.getElementById(id), {
    type: 'bar',
    data: { datasets: [{ data: distBins.map((b, i) => ({ x: hist[i], y: b })), backgroundColor: histFill[k], borderColor: histEdge[k], borderWidth: 1, borderSkipped: false, barPercentage: 1, categoryPercentage: 1 }] },
    options: {
      indexAxis: 'y',
      responsive: false, animation: false, events: [],
      layout: { padding: { top: 6.7, right: padR, left: 0, bottom: 0 } },
      plugins: { legend: { display: false }, tooltip: { enabled: false } },
      scales: {
        y: { type: 'linear', min: 0, max: 1, offset: false,
          afterBuildTicks: s => { s.ticks = yTicks.map(v => ({ value: v })); },
          afterFit: s => { s.width = yW; },
          ticks: { display: false }, grid: tickGrid(), border: { display: false } },
        x: { type: 'linear', min: 0, max: rightMax[k], offset: false,
          afterBuildTicks: s => { s.ticks = [0, rightTick].map(v => ({ value: v })); },
          afterFit: s => { s.height = 6.3; },
          ticks: { display: false }, grid: tickGrid(), border: { display: false } }
      }
    },
    plugins: [framePlugin, hLine(distMedians[k], lineCol[k])]
  });
}
rightHist('rightP', 0, rank2DistHist, 6.7, 1.7);
rightHist('rightB', 1, rank3DistHist, 6.3, 2);
rightHist('rightG', 2, rank4DistHist, 6.7, 2.3);

// ---------------- LEGEND ----------------
const legendRowsY = [88.3, 110, 132.3];
const leg = document.getElementById('legend');
seriesNames.forEach((n, i) => {
  const r = document.createElement('div');
  r.className = 'row';
  r.style.top = legendRowsY[i] + 'px';
  r.style.left = '0px';
  r.innerHTML = '<span class="dot" style="left:430.3px;background:rgba(' + baseCol[i] + ',0.45)"></span>' +
    '<span class="lab" style="left:461.7px">' + n + ' (<i>n</i>=' + seriesCounts[i] + ')</span>';
  leg.appendChild(r);
});
leg.style.position = 'absolute'; leg.style.left = '0'; leg.style.top = '0';
</script>
</body></html>
